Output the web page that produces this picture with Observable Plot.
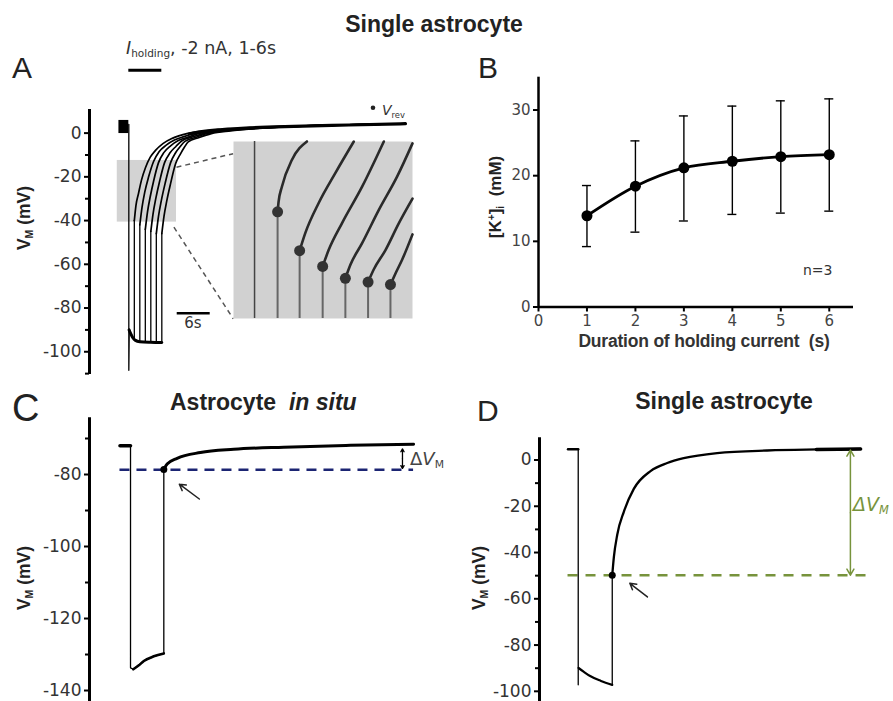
<!DOCTYPE html>
<html><head><meta charset="utf-8">
<script src="https://cdn.jsdelivr.net/npm/d3@7"></script>
<script src="https://cdn.jsdelivr.net/npm/@observablehq/plot@0.6"></script>
<style>
html,body{margin:0;padding:0;background:#fff;overflow:hidden}
#fig{position:relative;width:893px;height:701px;overflow:hidden;background:#fff;color:#222}
.pane{position:absolute}
.pane svg{max-width:none;overflow:visible}
.pane svg g[aria-label^="y-axis"] line,.pane svg g[aria-label^="y-axis"] path,
.pane svg g[aria-label^="x-axis"] line,.pane svg g[aria-label^="x-axis"] path{stroke:#000;stroke-width:2px}
.t{position:absolute;white-space:nowrap;line-height:1}
.t sub{font-size:0.6em;vertical-align:-0.3em;line-height:0}
.t sup{font-size:0.6em;vertical-align:0.55em;line-height:0}
</style></head>
<body><div id="fig"></div>
<script>
// ================= DATA =================
// ---- Panel A : single astrocyte, holding current 1-6 s (t in s, V in mV)
const aYTicks = [-100, -80, -60, -40, -20, 0];
const aYMinor = [-110, -90, -70, -50, -30, -10];
const aPreBlock = {t1: -1.8, t2: 0, v1: -0.2, v2: 5.8};
const aHyper = [[0,4],[0,-108.5],[0.08,-90],[0.4,-92],[1,-94.5],[2,-95.3],[3,-95.6],[4,-95.7],[5,-95.8],[6,-95.8]];
const aHyperBand = [[0.05,-90],[0.3,-91.5],[0.7,-93.5],[1.2,-94.8],[2,-95.4],[4,-95.7],[6,-95.8]];
const aReleaseT = [1, 2, 3, 4, 5, 6];
const aReleaseLow = [-94.5, -95.3, -95.6, -95.7, -95.8, -95.8];
const aReleaseJump = [-40, -42, -44, -45, -46, -46];
const aRec1 = [[1,-40],[1.3,-33],[1.76,-27.6],[2.3,-21.5],[3.04,-15.7],[3.9,-11],[4.85,-7.9],[6.2,-4.8],[7.9,-2.4],[10.8,-0.1],[15,1.3],[20,2.2],[30,3.2],[40,3.8],[50.3,4.3]];
const aRec2 = [[2,-42],[2.4,-34],[2.9,-27],[3.6,-20],[4.5,-13],[5.5,-8.5],[6.8,-5.5],[8.3,-3.2],[10,-1.6],[12,-0.1],[16,1.2],[21,2.2],[30,3.1],[40,3.8],[50.3,4.3]];
const aRec3 = [[3,-44],[3.4,-36],[3.9,-29],[4.5,-22],[5.4,-13.5],[6.4,-8.8],[7.6,-5.8],[9,-3.4],[10.8,-1.8],[12.8,-0.2],[16.5,1.1],[22,2.2],[30,3.1],[40,3.8],[50.3,4.3]];
const aRec4 = [[4,-45],[4.4,-37],[4.9,-30],[5.6,-22],[6.5,-13.5],[7.5,-9],[8.6,-6],[9.6,-3.6],[11.5,-1.8],[13.6,-0.2],[17,1.1],[22,2.1],[30,3.1],[40,3.8],[50.3,4.3]];
const aRec5 = [[5,-46],[5.4,-38],[5.9,-31],[6.6,-23],[7.6,-13.5],[8.5,-9],[9.4,-6],[10.2,-3.8],[12.2,-1.9],[14.3,-0.2],[18,1.1],[23,2.1],[30,3.1],[40,3.8],[50.3,4.3]];
const aRec6 = [[6,-46],[6.4,-38],[6.9,-31],[7.6,-23],[8.5,-14],[9.4,-9.5],[10.1,-6.5],[10.8,-4],[12.8,-2],[15,-0.2],[18.5,1],[23,2],[30,3.1],[40,3.8],[50.3,4.3]];
const aPlateau = [[11,-0.3],[13,0.6],[17,1.6],[22,2.4],[30,3.1],[40,3.7],[50.3,4.3]];
const aZoomBox = {t1: -2.1, t2: 8.67, v1: -40.7, v2: -12.5};
const aConnectors = [{t1: 8.67, v1: -15.6, t2: 18.98, v2: -9.4}, {t1: 8.2, v1: -43, t2: 18.98, v2: -84.9}];
const aScaleBar = {t1: 8.8, t2: 14.8, v: -82.4};      // 6 s
const aHoldingBar = {t1: 0, t2: 6, v: 28.7};          // 6 s
const aVrevKey = {t: 44.4, v: 11.6};

// ---- Panel A inset (magnified view of the grey box)
const insetT = [-2.4, 8.4];
const insetV = [-40.7, -12.5];
const insetMarkerT = -1.13;
const insetDotT = [0.26, 1.59, 2.98, 4.35, 5.72, 7.07];
const insetDotV = [-23.7, -29.9, -32.4, -34.3, -34.9, -35.3];
const inCurve1 = [[0.26,-23.7],[0.32,-22.1],[0.52,-19.7],[1.13,-15.4],[2.03,-12.5]];
const inCurve2 = [[1.59,-29.9],[1.93,-27.1],[2.74,-22.3],[3.75,-17.5],[4.86,-12.5]];
const inCurve3 = [[2.98,-32.4],[3.34,-29.8],[4.15,-25.5],[5.36,-19.7],[6.67,-12.5]];
const inCurve4 = [[4.35,-34.3],[4.66,-32.1],[5.36,-28.7],[6.37,-23.4],[7.47,-18.1],[8.4,-12.8]];
const inCurve5 = [[5.72,-34.9],[6.06,-32.9],[6.77,-29.8],[7.58,-25.5],[8.4,-21.6]];
const inCurve6 = [[7.07,-35.3],[7.38,-33.5],[7.78,-31.3],[8.4,-27.3]];

// ---- Panel B : [K+]i vs duration of holding current
const bDuration = [1, 2, 3, 4, 5, 6];
const bMean = [13.9, 18.4, 21.2, 22.2, 22.9, 23.2];
const bLow  = [9.2, 11.4, 13.1, 14.1, 14.3, 14.6];
const bHigh = [18.5, 25.3, 29.1, 30.6, 31.4, 31.7];
const bXTicks = [0, 1, 2, 3, 4, 5, 6];
const bYTicks = [0, 10, 20, 30];

// ---- Panel C : astrocyte in situ
const cYTicks = [-140, -120, -100, -80];
const cYMinor = [-130, -110, -90, -70];
const cPre = [[-1.9,-72],[0,-72]];
const cStep = [[0,-72],[0,-133.7],[0.5,-134.1],[2.4,-131.8],[4.2,-130.5],[6,-129.7],[6,-78.6]];
const cBottom = [[0.5,-134.1],[1.5,-133],[2.4,-131.8],[4.2,-130.5],[6,-129.7]];
const cRecovery = [[6,-78.6],[6.6,-77.1],[8.4,-75.5],[12.6,-73.9],[18.6,-73],[27.6,-72.4],[39.6,-71.9],[51,-71.6]];
const cVrev = {t: 6, v: -78.6};
const cRefLine = {v: -78.7, t1: -1.9, t2: 51};
const cDelta = {t: 49, top: -72.9, bottom: -78.3};
const cPointer = {t1: 12.4, v1: -86.8, t2: 8.8, v2: -82.7};

// ---- Panel D : single astrocyte
const dYTicks = [-100, -80, -60, -40, -20, 0];
const dYMinor = [-90, -70, -50, -30, -10];
const dPre = [[-1.8,4.6],[0,4.6]];
const dStep = [[0,4.6],[0,-97.2]];
const dHyper = [[0.05,-89.9],[1,-91.6],[2.1,-93.4],[4,-95.5],[6,-97.2]];
const dRelease = [[6,-97.2],[6,-49.8]];
const dRecovery = [[6,-49.8],[6.28,-42.1],[6.88,-32.3],[8.04,-22.4],[9.8,-12.5],[12.75,-4.8],[15.7,-1.3],[18.6,0.8],[24.5,3],[33.3,4.1],[49.8,4.8]];
const dEnd = [[42,4.5],[49.8,4.8]];
const dVrev = {t: 6, v: -49.8};
const dRefLine = {v: -49.8, t1: -1.8, t2: 51};
const dDelta = {t: 48, top: 4.3, bottom: -49.8};
const dPointer = {t1: 12.2, v1: -59.2, t2: 9.1, v2: -53.3};

// ================= HELPERS =================
const fig = document.getElementById("fig");
const px = d => d[0], py = d => d[1];
function pane(svg, left, top) {
  const d = document.createElement("div");
  d.className = "pane"; d.style.left = left + "px"; d.style.top = top + "px";
  d.appendChild(svg); fig.appendChild(d);
}
function label(html, o) {
  const d = document.createElement("div");
  d.className = "t";
  d.innerHTML = html;
  d.style.fontFamily = o.family || "'Liberation Sans', Arial, sans-serif";
  d.style.fontSize = o.size + "px";
  d.style.fontWeight = o.weight || "normal";
  d.style.fontStyle = o.italic ? "italic" : "normal";
  d.style.color = o.color || "#222";
  if (o.spacing) d.style.letterSpacing = o.spacing + "px";
  if (o.rotate) {
    d.style.left = o.x + "px"; d.style.top = o.y + "px";
    d.style.transform = "translate(-50%,-50%) rotate(-90deg)";
  } else {
    d.style.left = o.x + "px";
    d.style.top = (o.y - 0.846 * o.size) + "px";
    if (o.anchor === "middle") d.style.transform = "translateX(-50%)";
  }
  fig.appendChild(d);
}
const tickStyle = size => ({background: "transparent", fontFamily: "'DejaVu Sans', sans-serif", fontSize: size + "px", color: "#333"});
const fmt = d => String(d);

// ================= PANEL A =================
const aTDom = [-7.15, 52.13], aVDom = [-110.4, 10.8];
const aRecs = [aRec1, aRec2, aRec3, aRec4, aRec5, aRec6];
const aRel = aReleaseT.map((t, i) => ({t, low: aReleaseLow[i], jump: aReleaseJump[i]}));
pane(Plot.plot({
  width: 450, height: 380, marginLeft: 89, marginRight: 35, marginTop: 109, marginBottom: 6,
  style: tickStyle(17),
  x: {domain: aTDom, axis: null},
  y: {domain: aVDom, ticks: aYTicks, tickFormat: fmt, tickSize: 5, tickPadding: 3, label: null},
  marks: [
    Plot.rect([aZoomBox], {x1: "t1", x2: "t2", y1: "v1", y2: "v2", fill: "#d3d3d3"}),
    Plot.link(aConnectors, {x1: "t1", y1: "v1", x2: "t2", y2: "v2", stroke: "#555", strokeWidth: 1.5, strokeDasharray: "5,4"}),
    Plot.rect([aPreBlock], {x1: "t1", x2: "t2", y1: "v1", y2: "v2", fill: "#000"}),
    Plot.line(aHyper, {x: px, y: py, stroke: "#000", strokeWidth: 1.3}),
    Plot.line(aHyperBand, {x: px, y: py, stroke: "#000", strokeWidth: 3, curve: "monotone-x"}),
    Plot.ruleX(aRel, {x: "t", y1: "low", y2: "jump", stroke: "#000", strokeWidth: 1.3}),
    ...aRecs.map(r => Plot.line(r, {x: px, y: py, stroke: "#000", strokeWidth: 1.7, curve: "monotone-x"})),
    Plot.line(aPlateau, {x: px, y: py, stroke: "#000", strokeWidth: 3.2, curve: "monotone-x"}),
    Plot.ruleX([aTDom[0]], {stroke: "#000", strokeWidth: 3}),
    Plot.ruleY(aYMinor, {x1: aTDom[0], x2: aTDom[0], insetLeft: -4, stroke: "#000", strokeWidth: 2}),
    Plot.ruleY([aScaleBar], {y: "v", x1: "t1", x2: "t2", stroke: "#000", strokeWidth: 2.5}),
    Plot.ruleY([aHoldingBar], {y: "v", x1: "t1", x2: "t2", stroke: "#000", strokeWidth: 3}),
    Plot.dot([aVrevKey], {x: "t", y: "v", r: 2.3, fill: "#222", stroke: "none"})
  ]
}), 0, 0);

// inset
const insetDots = insetDotT.map((t, i) => ({t, v: insetDotV[i]}));
pane(Plot.plot({
  width: 179, height: 177, marginLeft: 0, marginRight: 0, marginTop: 0, marginBottom: 0,
  style: {background: "transparent"},
  x: {domain: insetT, axis: null},
  y: {domain: insetV, axis: null},
  marks: [
    Plot.frame({fill: "#d1d1d1", stroke: "none"}),
    Plot.ruleX([insetMarkerT], {stroke: "#444", strokeWidth: 1.5}),
    Plot.ruleX(insetDots, {x: "t", y1: insetV[0], y2: "v", stroke: "#666", strokeWidth: 2}),
    ...[inCurve1, inCurve2, inCurve3, inCurve4, inCurve5, inCurve6].map(c =>
      Plot.line(c, {x: px, y: py, stroke: "#2a2a2a", strokeWidth: 2.6, curve: "monotone-x"})),
    Plot.dot(insetDots, {x: "t", y: "v", r: 5.5, fill: "#333", stroke: "none"})
  ]
}), 232.7, 140.7);

// ================= PANEL B =================
const bData = bDuration.map((d, i) => ({d, m: bMean[i], lo: bLow[i], hi: bHigh[i]}));
pane(Plot.plot({
  width: 423, height: 320, marginLeft: 68, marginRight: 40, marginTop: 26.7, marginBottom: 63.5,
  style: {...tickStyle(15), color: "#444"},
  x: {domain: [0, 6.5], ticks: bXTicks, tickFormat: fmt, tickSize: 5, tickPadding: 3, label: null},
  y: {domain: [0, 35], ticks: bYTicks, tickFormat: fmt, tickSize: 5, tickPadding: 3, label: null},
  marks: [
    Plot.ruleX(bData, {x: "d", y1: "lo", y2: "hi", stroke: "#000", strokeWidth: 1.4}),
    Plot.ruleY(bData, {y: "lo", x1: "d", x2: "d", insetLeft: -4.5, insetRight: -4.5, stroke: "#000", strokeWidth: 1.4}),
    Plot.ruleY(bData, {y: "hi", x1: "d", x2: "d", insetLeft: -4.5, insetRight: -4.5, stroke: "#000", strokeWidth: 1.4}),
    Plot.line(bData, {x: "d", y: "m", stroke: "#000", strokeWidth: 2.8, curve: "monotone-x"}),
    Plot.dot(bData, {x: "d", y: "m", r: 5.5, fill: "#000", stroke: "none"}),
    Plot.ruleX([0], {stroke: "#000", strokeWidth: 2.5}),
    Plot.ruleY([0], {stroke: "#000", strokeWidth: 2.5})
  ]
}), 470, 50);

// ================= PANEL C =================
const cTDom = [-7.39, 54.05], cVDom = [-143.05, -64.25];
pane(Plot.plot({
  width: 460, height: 321, marginLeft: 89, marginRight: 30, marginTop: 37.3, marginBottom: 0,
  style: tickStyle(17),
  x: {domain: cTDom, axis: null},
  y: {domain: cVDom, ticks: cYTicks, tickFormat: fmt, tickSize: 5, tickPadding: 3, label: null},
  marks: [
    Plot.ruleY([cRefLine], {y: "v", x1: "t1", x2: "t2", stroke: "#1c2573", strokeWidth: 2.5, strokeDasharray: "10,7"}),
    Plot.line(cPre, {x: px, y: py, stroke: "#000", strokeWidth: 3.5}),
    Plot.line(cStep, {x: px, y: py, stroke: "#000", strokeWidth: 1.3}),
    Plot.line(cBottom, {x: px, y: py, stroke: "#000", strokeWidth: 2.6, curve: "monotone-x"}),
    Plot.line(cRecovery, {x: px, y: py, stroke: "#000", strokeWidth: 3, curve: "monotone-x"}),
    Plot.dot([cVrev], {x: "t", y: "v", r: 3.5, fill: "#000", stroke: "none"}),
    Plot.arrow([cPointer], {x1: "t1", y1: "v1", x2: "t2", y2: "v2", stroke: "#222", strokeWidth: 1.5, headLength: 7}),
    Plot.arrow([cDelta], {x1: "t", x2: "t", y1: d => (d.top + d.bottom) / 2, y2: "top", stroke: "#000", strokeWidth: 1.3, headLength: 4}),
    Plot.arrow([cDelta], {x1: "t", x2: "t", y1: d => (d.top + d.bottom) / 2, y2: "bottom", stroke: "#000", strokeWidth: 1.3, headLength: 4}),
    Plot.ruleX([cTDom[0]], {stroke: "#000", strokeWidth: 3}),
    Plot.ruleY(cYMinor, {x1: cTDom[0], x2: cTDom[0], insetLeft: -4, stroke: "#000", strokeWidth: 2})
  ]
}), 0, 380);

// ================= PANEL D =================
const dTDom = [-6.83, 55.6], dVDom = [-104.4, 9.6];
const green = "#77933c";
pane(Plot.plot({
  width: 443, height: 321, marginLeft: 89, marginRight: 0, marginTop: 57.3, marginBottom: 0,
  style: tickStyle(17),
  x: {domain: dTDom, axis: null},
  y: {domain: dVDom, ticks: dYTicks, tickFormat: fmt, tickSize: 5, tickPadding: 3, label: null},
  marks: [
    Plot.ruleY([dRefLine], {y: "v", x1: "t1", x2: "t2", stroke: green, strokeWidth: 2.5, strokeDasharray: "10,8"}),
    Plot.line(dPre, {x: px, y: py, stroke: "#000", strokeWidth: 2.5}),
    Plot.line(dStep, {x: px, y: py, stroke: "#000", strokeWidth: 1.3}),
    Plot.line(dHyper, {x: px, y: py, stroke: "#000", strokeWidth: 2.2, curve: "monotone-x"}),
    Plot.line(dRelease, {x: px, y: py, stroke: "#000", strokeWidth: 1.3}),
    Plot.line(dRecovery, {x: px, y: py, stroke: "#000", strokeWidth: 2.3, curve: "monotone-x"}),
    Plot.line(dEnd, {x: px, y: py, stroke: "#000", strokeWidth: 3.5}),
    Plot.dot([dVrev], {x: "t", y: "v", r: 3.5, fill: "#000", stroke: "none"}),
    Plot.arrow([dPointer], {x1: "t1", y1: "v1", x2: "t2", y2: "v2", stroke: "#222", strokeWidth: 1.5, headLength: 7}),
    Plot.arrow([dDelta], {x1: "t", x2: "t", y1: d => (d.top + d.bottom) / 2, y2: "top", stroke: green, strokeWidth: 1.5, headLength: 7}),
    Plot.arrow([dDelta], {x1: "t", x2: "t", y1: d => (d.top + d.bottom) / 2, y2: "bottom", stroke: green, strokeWidth: 1.5, headLength: 7}),
    Plot.ruleX([dTDom[0]], {stroke: "#000", strokeWidth: 3}),
    Plot.ruleY(dYMinor, {x1: dTDom[0], x2: dTDom[0], insetLeft: -4, stroke: "#000", strokeWidth: 2})
  ]
}), 450, 380);

// ================= TEXT =================
const DV = "'DejaVu Sans', sans-serif";
label("Single astrocyte", {x: 434, y: 32, size: 23, weight: "bold", anchor: "middle"});
label("A", {x: 12, y: 78, size: 30});
label("<i>I</i><sub>holding</sub>, -2 nA, 1-6s", {x: 126, y: 55, size: 17.5, family: DV, color: "#333"});
label("<i>V</i><sub>rev</sub>", {x: 382, y: 115, size: 14, family: DV, color: "#333"});
label("6s", {x: 193, y: 329, size: 15, family: DV, color: "#333", anchor: "middle"});
label("V<sub>M</sub> (mV)", {x: 25, y: 218, size: 17.5, weight: "bold", rotate: true});
label("B", {x: 478, y: 78, size: 30});
label("[K<sup>+</sup>]<sub>i</sub>&nbsp; (mM)", {x: 495, y: 197, size: 17, weight: "bold", rotate: true});
label("Duration of holding current&nbsp; (s)", {x: 704, y: 348, size: 17.5, weight: "bold", anchor: "middle", color: "#333", spacing: -0.2});
label("n=3", {x: 803, y: 275, size: 14, family: DV, color: "#333"});
label("C", {x: 12, y: 421, size: 38});
label("Astrocyte&nbsp; <i>in situ</i>", {x: 170, y: 410, size: 23, weight: "bold"});
label("V<sub>M</sub> (mV)", {x: 25, y: 578, size: 17.5, weight: "bold", rotate: true});
label("Δ<i>V</i><sub>M</sub>", {x: 410, y: 465, size: 18, family: DV, color: "#444"});
label("D", {x: 477, y: 421, size: 30});
label("Single astrocyte", {x: 724, y: 409, size: 23, weight: "bold", anchor: "middle"});
label("V<sub>M</sub> (mV)", {x: 480, y: 578, size: 17.5, weight: "bold", rotate: true});
label("Δ<i>V</i><sub>M</sub>", {x: 853, y: 511, size: 19, family: DV, color: green, italic: true});
</script>
</body></html>
